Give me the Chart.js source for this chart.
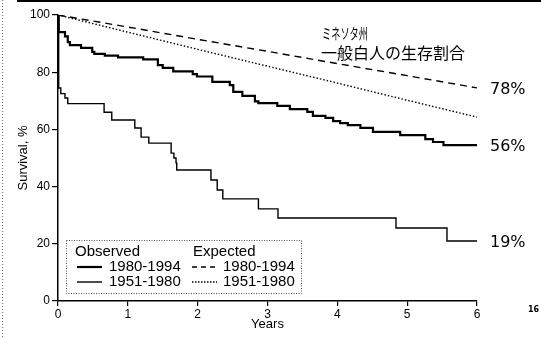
<!DOCTYPE html>
<html>
<head>
<meta charset="utf-8">
<script src="https://cdn.jsdelivr.net/npm/chart.js@4"></script>
<style>
  body { margin: 0; background: #fff; }
  #wrap { width: 541px; height: 338px; }
</style>
</head>
<body>
<div id="wrap"><canvas id="survChart" width="541" height="338"></canvas></div>
<script>
// ---- datos ----
// observado 1980-1994 (tiempo del evento, supervivencia despues del evento)
var obsRecentT = [0, 0.01, 0.10, 0.14, 0.17, 0.33, 0.49, 0.52, 0.67, 0.86, 1.22, 1.43, 1.50, 1.65, 1.93, 1.99, 2.21, 2.46, 2.51, 2.64, 2.82, 2.87, 3.14, 3.32, 3.57, 3.65, 3.83, 3.94, 4.04, 4.15, 4.33, 4.51, 4.90, 5.26, 5.37, 5.52, 6.0];
var obsRecentV = [100, 94, 92.5, 90.5, 89.5, 88.5, 87.1, 86.4, 85.8, 85.2, 84.5, 82.5, 81.5, 80.3, 79.3, 78.5, 76.6, 75.5, 73.1, 71.7, 69.8, 69.2, 68.2, 67.1, 66.1, 64.7, 64.0, 62.9, 62.2, 61.5, 60.5, 59.1, 58.0, 56.6, 55.6, 54.5, 54.5];

// observado 1951-1980
var obsEarlyT = [0, 0.01, 0.04, 0.10, 0.14, 0.66, 0.77, 1.10, 1.19, 1.30, 1.62, 1.66, 1.69, 1.70, 2.19, 2.28, 2.36, 2.87, 3.15, 4.84, 5.57, 6.0];
var obsEarlyV = [100, 74.5, 72.5, 71, 69, 66, 63.3, 60.5, 57.3, 55.2, 51.7, 50, 48.3, 45.8, 42.3, 38.8, 35.7, 32.2, 29.0, 25.5, 21.0, 21.0];

// esperado (poblacion general de Minnesota)
var expYears = [0, 1, 2, 3, 4, 5, 6];
var expRecent = [100, 95.8, 91.5, 87.3, 83.0, 78.8, 74.5];
var expEarly = [100, 94.0, 88.0, 82.1, 76.2, 70.2, 64.3];

var xTicks = [0, 1, 2, 3, 4, 5, 6];
var yTicks = [0, 20, 40, 60, 80, 100];
var endLabels = ['78%', '56%', '19%'];

function aPuntos(tt, vv){
    var pts = [];
    for(var i = 0; i < tt.length; i++){
        pts.push({x: tt[i], y: vv[i]});
    }
    return pts;
}

var fuenteTick = 'Liberation Sans, Arial, sans-serif';

//------------------------------
//- textos, leyenda y bordes   -
//------------------------------
var decoracion = {
    id: 'decoracion',
    afterDraw: function(chart){
        var ctx = chart.ctx;
        var xs = chart.scales.x, ys = chart.scales.y;
        ctx.save();

        // borde superior y borde izquierdo punteado del escaneo
        ctx.strokeStyle = '#000';
        ctx.lineWidth = 2;
        ctx.beginPath(); ctx.moveTo(17, 1); ctx.lineTo(541, 1); ctx.stroke();
        ctx.strokeStyle = '#777';
        ctx.lineWidth = 1;
        ctx.setLineDash([1, 2]);
        ctx.beginPath(); ctx.moveTo(2.5, 0); ctx.lineTo(2.5, 338); ctx.stroke();
        ctx.setLineDash([]);

        // anotacion en japones
        ctx.fillStyle = '#000';
        ctx.textBaseline = 'middle';
        ctx.textAlign = 'left';
        ctx.font = '15px "Noto Sans CJK JP"';
        ctx.fillText('ミネソタ州', 322, 33, 46);
        ctx.font = '16px "Noto Sans CJK JP"';
        ctx.fillText('一般白人の生存割合', 321, 53, 145);

        // porcentajes al final de cada curva
        ctx.font = '16px "DejaVu Sans", sans-serif';
        var orden = [2, 0, 1];
        for(var i = 0; i < orden.length; i++){
            var d = chart.data.datasets[orden[i]].data;
            var ult = d[d.length - 1];
            ctx.fillText(endLabels[i], xs.getPixelForValue(6) + 13, ys.getPixelForValue(ult.y) + 2);
        }

        // leyenda
        ctx.strokeStyle = '#555';
        ctx.lineWidth = 1;
        ctx.setLineDash([1, 1.5]);
        ctx.strokeRect(66.5, 240.5, 235, 53);
        ctx.setLineDash([]);
        ctx.font = '15px ' + fuenteTick;
        ctx.fillText('Observed', 75, 252);
        ctx.fillText('Expected', 193, 252);
        ctx.fillText('1980-1994', 109, 267);
        ctx.fillText('1951-1980', 109, 282);
        ctx.fillText('1980-1994', 223, 267);
        ctx.fillText('1951-1980', 223, 282);
        var muestras = [
            {x: 77, y: 267, w: 2.2, dash: []},
            {x: 77, y: 282, w: 1.4, dash: []},
            {x: 192, y: 267, w: 1.3, dash: [5, 4]},
            {x: 192, y: 282, w: 1.3, dash: [1.5, 1.5]}
        ];
        ctx.strokeStyle = '#000';
        for(var j = 0; j < muestras.length; j++){
            var m = muestras[j];
            ctx.lineWidth = m.w;
            ctx.setLineDash(m.dash);
            ctx.beginPath(); ctx.moveTo(m.x, m.y); ctx.lineTo(m.x + 25, m.y); ctx.stroke();
        }
        ctx.setLineDash([]);

        // numero de pagina
        ctx.font = 'bold 8px "DejaVu Sans", sans-serif';
        ctx.fillText('16', 528, 310);
        ctx.restore();
    }
};

var ctxGrafica = document.getElementById('survChart').getContext('2d');
new Chart(ctxGrafica, {
    type: 'line',
    data: {
        datasets: [
            {
                label: 'Observed 1980-1994',
                data: aPuntos(obsRecentT, obsRecentV),
                stepped: 'before',
                borderColor: '#000',
                borderWidth: 2.2,
                pointRadius: 0
            },
            {
                label: 'Observed 1951-1980',
                data: aPuntos(obsEarlyT, obsEarlyV),
                stepped: 'before',
                borderColor: '#000',
                borderWidth: 1.4,
                pointRadius: 0
            },
            {
                label: 'Expected 1980-1994',
                data: aPuntos(expYears, expRecent),
                borderColor: '#000',
                borderWidth: 1.4,
                borderDash: [7, 5],
                pointRadius: 0
            },
            {
                label: 'Expected 1951-1980',
                data: aPuntos(expYears, expEarly),
                borderColor: '#000',
                borderWidth: 1.4,
                borderDash: [1.5, 2],
                pointRadius: 0
            }
        ]
    },
    options: {
        responsive: false,
        animation: false,
        devicePixelRatio: 1,
        layout: { padding: { left: 0, right: 64, top: 15, bottom: 0 } },
        plugins: {
            legend: { display: false },
            tooltip: { enabled: false }
        },
        scales: {
            x: {
                type: 'linear',
                min: 0,
                max: 6,
                afterFit: function(s){ s.height = 37; },
                afterBuildTicks: function(s){ s.ticks = xTicks.map(function(v){ return {value: v}; }); },
                border: { color: '#000', width: 1.5 },
                grid: { drawOnChartArea: false, color: '#000', tickLength: 5, lineWidth: 1.2 },
                ticks: { color: '#000', padding: 1, font: { family: fuenteTick, size: 12 } },
                title: { display: true, text: 'Years', color: '#000', padding: { top: 0, bottom: 6 }, font: { family: fuenteTick, size: 13 } }
            },
            y: {
                min: 0,
                max: 100,
                afterFit: function(s){ s.width = 58; },
                afterBuildTicks: function(s){ s.ticks = yTicks.map(function(v){ return {value: v}; }); },
                border: { color: '#000', width: 1.5 },
                grid: { drawOnChartArea: false, color: '#000', tickLength: 6, lineWidth: 1.2 },
                ticks: { color: '#000', padding: 2, font: { family: fuenteTick, size: 12 } },
                title: { display: true, text: 'Survival, %', color: '#000', padding: { top: 16, bottom: 0 }, font: { family: fuenteTick, size: 13 } }
            }
        }
    },
    plugins: [decoracion]
});
</script>
</body>
</html>
